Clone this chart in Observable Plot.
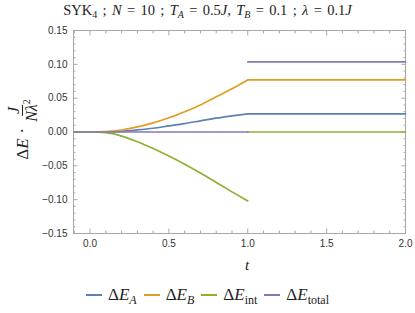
<!DOCTYPE html>
<html><head><meta charset="utf-8">
<script src="https://cdn.jsdelivr.net/npm/d3@7"></script>
<script src="https://cdn.jsdelivr.net/npm/@observablehq/plot@0.6"></script>
<style>
html,body{margin:0;padding:0;background:#fff;}
#wrap{position:relative;width:415px;height:313px;overflow:hidden;font-family:"Liberation Serif",serif;}
#title{position:absolute;top:2px;left:0;width:415px;text-align:center;font-size:14.5px;word-spacing:1.7px;color:#222;white-space:nowrap;}
#title sub{font-size:10px;vertical-align:-3px;line-height:0;}
#chart{position:absolute;top:20px;left:0;}
#ylab{position:absolute;left:23px;top:129px;transform:translate(-50%,-50%) rotate(-90deg);white-space:nowrap;font-size:17px;color:#222;display:flex;align-items:center;}
.dot{margin:0 5px;}
.frac{display:inline-flex;flex-direction:column;align-items:center;font-size:16px;}
.frac .num{border-bottom:1px solid #222;padding:0 2px;line-height:16px;}
.frac .den{line-height:17px;padding:0 1px;}
.frac sup{font-size:10px;vertical-align:7px;line-height:0;}
#tlab{position:absolute;top:257px;left:245px;font-size:15px;font-style:italic;color:#222;}
#legend{position:absolute;top:285px;left:0;width:415px;display:flex;justify-content:center;align-items:center;font-size:17px;color:#222;}
.item{display:flex;align-items:center;margin:0 3.5px;}
.sw{width:16px;height:2px;margin-right:6px;}
.item sub{font-size:12px;vertical-align:-4px;line-height:0;font-style:normal;}
.item sub i{font-style:italic;}
</style></head>
<body>
<div id="wrap">
<div id="title">SYK<sub>4</sub> ; <i>N</i> = 10 ; <i>T</i><sub><i>A</i></sub> = 0.5<i>J</i>, <i>T</i><sub><i>B</i></sub> = 0.1 ; <i>λ</i> = 0.1<i>J</i></div>
<div id="chart"></div>
<div id="ylab"><span>Δ<i>E</i></span><span class="dot">·</span><span class="frac"><span class="num"><i>J</i></span><span class="den"><i>N</i><i>λ</i><sup>2</sup></span></span></div>
<div id="tlab">t</div>
<div id="legend"></div>
</div>
<script>
// time grid (quench window) and values
const tQuench = [-0.1, 0, 0.1, 0.2, 0.3, 0.4, 0.5, 0.6, 0.7, 0.8, 0.9, 1.0];
const dE_A    = [0, 0, 0.0002, 0.001, 0.003, 0.0055, 0.009, 0.0125, 0.0165, 0.0205, 0.0238, 0.0268];
const dE_B    = [0, 0, 0.0006, 0.003, 0.0075, 0.0135, 0.021, 0.030, 0.040, 0.052, 0.064, 0.077];
const dE_int  = [0, 0, -0.001, -0.006, -0.0145, -0.0245, -0.0355, -0.0475, -0.0605, -0.0745, -0.0885, -0.102];
const dE_tot  = [0, 0, 0, 0, 0, 0, 0, 0, 0, 0, 0, 0];
// after the quench (t from 1 to 2) values are constant
const tAfter = [1.0, 2.0];
const after_A = [0.0268, 0.0268];
const after_B = [0.077, 0.077];
const after_int = [0, 0];
const after_tot = [0.1035, 0.1035];

const seriesNames = ["ΔE_A", "ΔE_B", "ΔE_int", "ΔE_total"];
const colors = ["#5E81B5", "#E19C24", "#8FB032", "#8778B3"];
const xMajor = [0, 0.5, 1.0, 1.5, 2.0];
const yMajor = [-0.15, -0.10, -0.05, 0, 0.05, 0.10, 0.15];

const curves = [dE_A, dE_B, dE_int, dE_tot];
const afters = [after_A, after_B, after_int, after_tot];
const rows = [];
seriesNames.forEach((s, i) => {
  tQuench.forEach((t, j) => rows.push({t, v: curves[i][j], s, seg: s + "-1"}));
  tAfter.forEach((t, j) => rows.push({t, v: afters[i][j], s, seg: s + "-2"}));
});

const xMinor = d3.range(-0.1, 2.0001, 0.1).map(v => +v.toFixed(2)).filter(v => !xMajor.includes(v));
const yMinor = d3.range(-0.15, 0.1501, 0.01).map(v => +v.toFixed(3)).filter(v => !yMajor.some(m => Math.abs(m - v) < 1e-6));

const frameColor = "#a8a8a8";
const plot = Plot.plot({
  width: 415,
  height: 255,
  marginLeft: 73,
  marginRight: 10,
  marginTop: 10,
  marginBottom: 42,
  style: {fontFamily: "'Liberation Sans', Arial, sans-serif", fontSize: "10px", color: "#333", background: "#fff"},
  x: {domain: [-0.105, 2.0]},
  y: {domain: [-0.15, 0.15]},
  color: {domain: seriesNames, range: colors},
  marks: [
    Plot.frame({stroke: frameColor}),
    Plot.axisX({ticks: xMajor, tickFormat: ".1f", tickSize: 0, tickPadding: 6, label: null}),
    Plot.axisY({ticks: yMajor, tickFormat: ".2f", tickSize: 0, tickPadding: 6, label: null}),
    Plot.axisX({ticks: xMajor, tickSize: -4.5, text: null, label: null, stroke: frameColor}),
    Plot.axisX({ticks: xMinor, tickSize: -2.5, text: null, label: null, stroke: frameColor}),
    Plot.axisX({anchor: "top", ticks: xMajor, tickSize: -4.5, text: null, label: null, stroke: frameColor}),
    Plot.axisX({anchor: "top", ticks: xMinor, tickSize: -2.5, text: null, label: null, stroke: frameColor}),
    Plot.axisY({ticks: yMajor, tickSize: -4.5, text: null, label: null, stroke: frameColor}),
    Plot.axisY({ticks: yMinor, tickSize: -2.5, text: null, label: null, stroke: frameColor}),
    Plot.axisY({anchor: "right", ticks: yMajor, tickSize: -4.5, text: null, label: null, stroke: frameColor}),
    Plot.axisY({anchor: "right", ticks: yMinor, tickSize: -2.5, text: null, label: null, stroke: frameColor}),
    Plot.line(rows, {x: "t", y: "v", z: "seg", stroke: "s", strokeWidth: 1.7, curve: "monotone-x"})
  ]
});
document.getElementById("chart").appendChild(plot);

const subs = ["<i>A</i>", "<i>B</i>", "int", "total"];
const leg = document.getElementById("legend");
seriesNames.forEach((s, i) => {
  const it = document.createElement("div");
  it.className = "item";
  it.innerHTML = `<span class="sw" style="background:${colors[i]}"></span><span>Δ<i>E</i><sub>${subs[i]}</sub></span>`;
  leg.appendChild(it);
});
</script>
</body></html>
